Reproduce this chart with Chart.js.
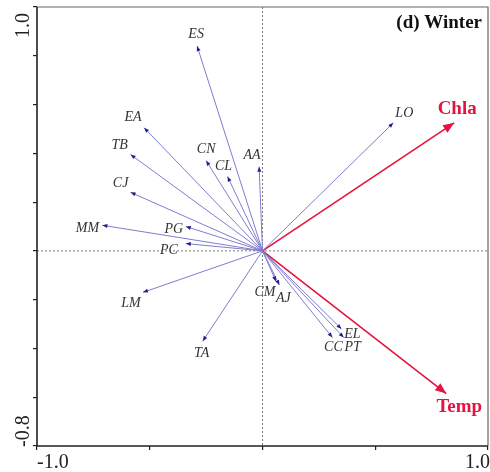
<!DOCTYPE html>
<html>
<head>
<meta charset="utf-8">
<script src="https://cdn.jsdelivr.net/npm/chart.js@4/dist/chart.umd.min.js"></script>
<style>
  html, body { margin: 0; padding: 0; background: #fff; }
  canvas { display: block; }
</style>
</head>
<body>
<canvas id="rdaChart" width="490" height="472"></canvas>
<script>
// species scores (RDA axis 1 / axis 2)
const species = ['ES', 'EA', 'TB', 'CN', 'CL', 'AA', 'CJ', 'MM', 'PG', 'PC', 'LM', 'TA', 'LO', 'CM', 'AJ', 'EL', 'PT', 'CC'];
const speciesX = [-0.29, -0.525, -0.585, -0.25, -0.155, -0.015, -0.585, -0.71, -0.34, -0.34, -0.53, -0.265, 0.58, 0.06, 0.075, 0.35, 0.36, 0.31];
const speciesY = [0.84, 0.505, 0.395, 0.37, 0.305, 0.345, 0.24, 0.105, 0.10, 0.03, -0.17, -0.37, 0.525, -0.125, -0.14, -0.32, -0.355, -0.355];

// environmental variables
const envVars = ['Chla', 'Temp'];
const envX = [0.85, 0.815];
const envY = [0.525, -0.585];

// axis ranges and end labels
const xRange = [-1.0, 1.0];
const yRange = [-0.8, 1.0];
const xEndLabels = ['-1.0', '1.0'];
const yEndLabels = ['-0.8', '1.0'];

// label offsets from arrow tip, in px
const labelOffset = {
  ES: [-1, -12], EA: [-11, -10], TB: [-11, -9], CN: [0, -11], CL: [-4, -10],
  AA: [-7, -11], CJ: [-10, -9], MM: [-15, 3], PG: [-12, 3], PC: [-17, 7],
  LM: [-12, 11], TA: [-1, 12], LO: [11, -10], CM: [-11, 11], AJ: [4, 13],
  EL: [11, 5], CC: [1, 10], PT: [9, 10], Chla: [3, -14], Temp: [13, 14]
};

const SP_LINE = '#7d7dcf';
const SP_HEAD = '#1f1f8f';
const ENV_COL = '#e3143f';
const SERIF = "'Liberation Serif', 'DejaVu Serif', serif";

const datasets = [];
species.forEach((s, i) => {
  datasets.push({
    label: s, kind: 'sp',
    data: [{ x: 0, y: 0 }, { x: speciesX[i], y: speciesY[i] }],
    showLine: true, borderColor: SP_LINE, borderWidth: 1, pointRadius: 0
  });
});
envVars.forEach((e, i) => {
  datasets.push({
    label: e, kind: 'env',
    data: [{ x: 0, y: 0 }, { x: envX[i], y: envY[i] }],
    showLine: true, borderColor: ENV_COL, borderWidth: 1.6, pointRadius: 0
  });
});

function arrowHead(ctx, x0, y0, x1, y1, len, half, color) {
  const a = Math.atan2(y1 - y0, x1 - x0);
  ctx.save();
  ctx.translate(x1, y1);
  ctx.rotate(a);
  ctx.beginPath();
  ctx.moveTo(0, 0);
  ctx.lineTo(-len, half);
  ctx.lineTo(-len, -half);
  ctx.closePath();
  ctx.fillStyle = color;
  ctx.fill();
  ctx.restore();
}

const biplot = {
  id: 'biplot',
  beforeDatasetsDraw(chart) {
    const { ctx, chartArea: ca, scales: { x, y } } = chart;
    const x0 = x.getPixelForValue(0), y0 = y.getPixelForValue(0);
    ctx.save();
    ctx.strokeStyle = '#777';
    ctx.lineWidth = 1;
    ctx.setLineDash([2, 2]);
    ctx.beginPath();
    ctx.moveTo(x0, ca.top); ctx.lineTo(x0, ca.bottom);
    ctx.moveTo(ca.left, y0); ctx.lineTo(ca.right, y0);
    ctx.stroke();
    ctx.restore();
  },
  afterDatasetsDraw(chart) {
    const { ctx, chartArea: ca, scales: { x, y } } = chart;
    // frame
    ctx.save();
    ctx.strokeStyle = '#666';
    ctx.lineWidth = 1.2;
    ctx.beginPath();
    ctx.moveTo(ca.left, ca.top); ctx.lineTo(ca.right, ca.top); ctx.lineTo(ca.right, ca.bottom);
    ctx.stroke();
    ctx.strokeStyle = '#222';
    ctx.lineWidth = 1.6;
    ctx.beginPath();
    ctx.moveTo(ca.left, ca.top); ctx.lineTo(ca.left, ca.bottom); ctx.lineTo(ca.right, ca.bottom);
    ctx.stroke();
    ctx.restore();

    // arrowheads and labels
    chart.data.datasets.forEach((ds, i) => {
      const pts = chart.getDatasetMeta(i).data;
      const p0 = pts[0], p1 = pts[1];
      const off = labelOffset[ds.label] || [0, 0];
      ctx.save();
      ctx.textAlign = 'center';
      ctx.textBaseline = 'middle';
      if (ds.kind === 'env') {
        arrowHead(ctx, p0.x, p0.y, p1.x, p1.y, 11, 4.5, ENV_COL);
        ctx.fillStyle = ENV_COL;
        ctx.font = 'bold 19px ' + SERIF;
      } else {
        arrowHead(ctx, p0.x, p0.y, p1.x, p1.y, 5, 2, SP_HEAD);
        ctx.fillStyle = '#333';
        ctx.font = 'italic 14px ' + SERIF;
      }
      ctx.fillText(ds.label, p1.x + off[0], p1.y + off[1]);
      ctx.restore();
    });

    // end tick labels
    ctx.save();
    ctx.fillStyle = '#222';
    ctx.font = '20px ' + SERIF;
    ctx.textBaseline = 'alphabetic';
    ctx.textAlign = 'left';
    ctx.fillText(xEndLabels[0], x.getPixelForValue(xRange[0]), 468);
    ctx.textAlign = 'right';
    ctx.fillText(xEndLabels[1], x.getPixelForValue(xRange[1]) + 2, 468);
    ctx.save();
    ctx.translate(29, y.getPixelForValue(yRange[0]) + 1);
    ctx.rotate(-Math.PI / 2);
    ctx.textAlign = 'left';
    ctx.fillText(yEndLabels[0], 0, 0);
    ctx.restore();
    ctx.save();
    ctx.translate(29, y.getPixelForValue(yRange[1]) + 6);
    ctx.rotate(-Math.PI / 2);
    ctx.textAlign = 'right';
    ctx.fillText(yEndLabels[1], 0, 0);
    ctx.restore();

    // panel title
    ctx.font = 'bold 19px ' + SERIF;
    ctx.textAlign = 'right';
    ctx.textBaseline = 'middle';
    ctx.fillStyle = '#111';
    ctx.fillText('(d) Winter', ca.right - 6, ca.top + 16);
    ctx.restore();
  }
};

new Chart(document.getElementById('rdaChart').getContext('2d'), {
  type: 'scatter',
  data: { datasets },
  options: {
    responsive: false,
    animation: false,
    layout: { padding: { top: 7, right: 2, left: 0, bottom: 0 } },
    plugins: { legend: { display: false }, tooltip: { enabled: false } },
    scales: {
      x: {
        type: 'linear', min: xRange[0], max: xRange[1],
        ticks: { stepSize: 0.5, display: false },
        grid: { drawOnChartArea: false, drawTicks: true, tickLength: 4, color: '#222', lineWidth: 1.2 },
        border: { display: false },
        afterFit(scale) { scale.height = 26; }
      },
      y: {
        type: 'linear', min: yRange[0], max: yRange[1],
        ticks: { stepSize: 0.2, display: false },
        grid: { drawOnChartArea: false, drawTicks: true, tickLength: 4, color: '#222', lineWidth: 1.2 },
        border: { display: false },
        afterFit(scale) { scale.width = 37; }
      }
    }
  },
  plugins: [biplot]
});
</script>
</body>
</html>
